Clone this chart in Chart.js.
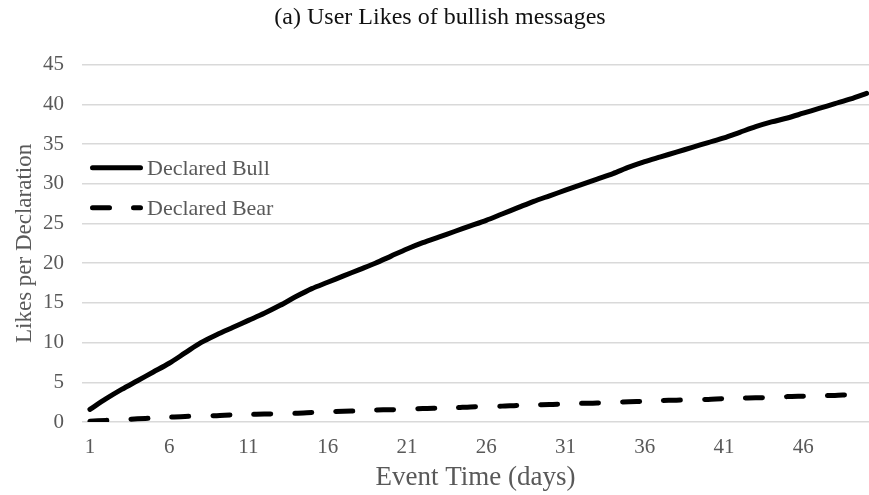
<!DOCTYPE html>
<html>
<head>
<meta charset="utf-8">
<script src="https://cdn.jsdelivr.net/npm/chart.js@4/dist/chart.umd.min.js"></script>
<style>
  html, body { margin: 0; padding: 0; background: #fff; overflow: hidden; }
  #wrap { width: 869px; height: 495px; }
</style>
</head>
<body>
<div id="wrap"><canvas id="likes-chart"></canvas></div>
<script>
var days = [];
for (var d = 1; d <= 50; d++) days.push(d);

var bullLikes = [1.6, 2.9, 4.1, 5.2, 6.3, 7.4, 8.7, 10.0, 11.0, 11.9,
                 12.8, 13.7, 14.7, 15.8, 16.8, 17.6, 18.4, 19.2, 20.0, 20.9,
                 21.8, 22.6, 23.3, 24.0, 24.7, 25.4, 26.2, 27.0, 27.8, 28.5,
                 29.2, 29.9, 30.6, 31.3, 32.1, 32.8, 33.4, 34.0, 34.6, 35.2,
                 35.8, 36.5, 37.2, 37.8, 38.3, 38.9, 39.5, 40.1, 40.7, 41.4];

var bearLikes = [0.1, 0.2, 0.3, 0.4, 0.5, 0.6, 0.7, 0.75, 0.8, 0.9,
                 0.95, 1.0, 1.05, 1.1, 1.2, 1.3, 1.35, 1.4, 1.5, 1.55,
                 1.6, 1.7, 1.75, 1.8, 1.9, 1.95, 2.0, 2.1, 2.15, 2.2,
                 2.3, 2.35, 2.4, 2.5, 2.55, 2.6, 2.7, 2.75, 2.8, 2.85,
                 2.95, 3.0, 3.05, 3.1, 3.2, 3.25, 3.3, 3.35, 3.45, 3.5];

var xTicks = [1, 6, 11, 16, 21, 26, 31, 36, 41, 46];
var yTicks = [0, 5, 10, 15, 20, 25, 30, 35, 40, 45];

var serif = "'Liberation Serif', 'Times New Roman', serif";
var grey = '#595959';

var toPoints = (vals) => vals.map((v, i) => ({ x: days[i], y: v }));

// legend sits inside the plot area, like the original
var innerLegend = {
    id: 'innerLegend',
    afterDatasetsDraw: (chart) => {
        var c = chart.ctx;
        var a = chart.chartArea;
        var x0 = a.left + 8;
        chart.data.datasets.forEach((ds, i) => {
            var y = a.top + 103 + i * 40;
            c.save();
            c.strokeStyle = ds.borderColor;
            c.lineWidth = ds.borderWidth;
            c.lineCap = 'round';
            c.setLineDash(ds.borderDash || []);
            c.beginPath();
            c.moveTo(x0 + 2.5, y);
            c.lineTo(x0 + 50.5, y);
            c.stroke();
            c.setLineDash([]);
            c.fillStyle = grey;
            c.font = '22px ' + serif;
            c.textBaseline = 'middle';
            c.fillText(ds.label, x0 + 57, y + 1);
            c.restore();
        });
    }
};

var ctx = document.getElementById('likes-chart').getContext('2d');
var chart = new Chart(ctx, {
    type: 'line',
    data: {
        datasets: [{
            label: 'Declared Bull',
            data: toPoints(bullLikes),
            borderColor: '#000',
            borderWidth: 5,
            borderCapStyle: 'round',
            pointRadius: 0,
            tension: 0.3
        }, {
            label: 'Declared Bear',
            data: toPoints(bearLikes),
            borderColor: '#000',
            borderWidth: 5,
            borderDash: [17, 24],
            borderCapStyle: 'round',
            pointRadius: 0,
            tension: 0.3
        }]
    },
    options: {
        responsive: true,
        maintainAspectRatio: false,
        animation: false,
        layout: { padding: { left: 11, right: 0, top: 0, bottom: 1 } },
        plugins: {
            legend: { display: false },
            tooltip: { enabled: false },
            title: {
                display: true,
                text: '(a) User Likes of bullish messages',
                color: '#111',
                font: { family: serif, size: 24, weight: 'normal' },
                padding: { top: 3, bottom: 33 }
            }
        },
        scales: {
            x: {
                type: 'linear',
                min: 0.5,
                max: 50.15,
                afterBuildTicks: (axis) => { axis.ticks = xTicks.map(v => ({ value: v })); },
                afterFit: (axis) => { axis.height = 72; },
                grid: { display: false, drawTicks: false },
                border: { display: false },
                ticks: { color: grey, font: { family: serif, size: 21 }, padding: 13, maxRotation: 0, autoSkip: false },
                title: { display: true, text: 'Event Time (days)', color: grey, font: { family: serif, size: 27 }, padding: { top: 1, bottom: 0 } }
            },
            y: {
                min: 0,
                max: 45,
                afterBuildTicks: (axis) => { axis.ticks = yTicks.map(v => ({ value: v })); },
                afterFit: (axis) => { axis.width = 71; },
                grid: { color: '#d9d9d9', lineWidth: 1.5, drawTicks: false },
                border: { display: false },
                ticks: { color: grey, font: { family: serif, size: 21 }, padding: 18 },
                title: { display: true, text: 'Likes per Declaration', color: grey, font: { family: serif, size: 23 }, padding: { top: 0, bottom: 4 } }
            }
        }
    },
    plugins: [innerLegend]
});
</script>
</body>
</html>
